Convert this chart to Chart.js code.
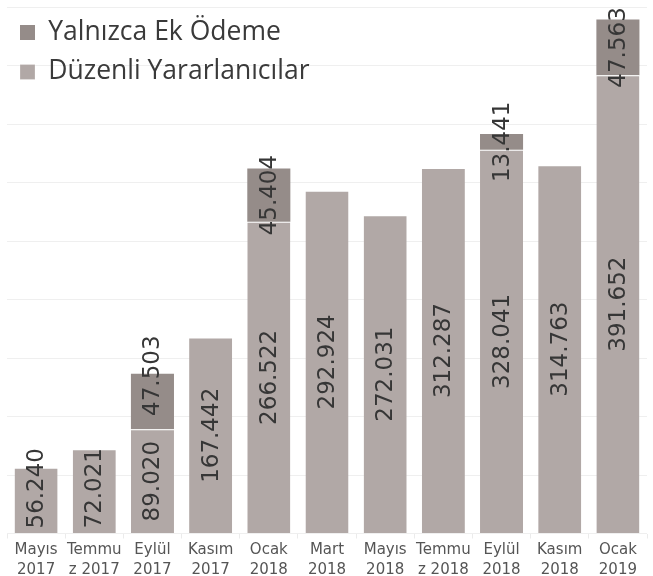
<!DOCTYPE html>
<html>
<head>
<meta charset="utf-8">
<script src="https://cdn.jsdelivr.net/npm/chart.js@4.4.1/dist/chart.umd.min.js"></script>
<style>
  html, body { margin: 0; padding: 0; background: #fff; }
  #wrap { width: 653px; height: 576px; position: relative; }
</style>
</head>
<body>
<div id="wrap"><canvas id="chart"></canvas></div>
<script>
const categories = [
    ['Mayıs', '2017'], ['Temmu', 'z 2017'], ['Eylül', '2017'], ['Kasım', '2017'],
    ['Ocak', '2018'], ['Mart', '2018'], ['Mayıs', '2018'], ['Temmu', 'z 2018'],
    ['Eylül', '2018'], ['Kasım', '2018'], ['Ocak', '2019']
];
const regularValues = [56240, 72021, 89020, 167442, 266522, 292924, 272031, 312287, 328041, 314763, 391652];
const extraValues = [null, null, 47503, null, 45404, null, null, null, 13441, null, 47563];
const yTicks = [0, 50000, 100000, 150000, 200000, 250000, 300000, 350000, 400000, 450000];

const labelFont = '23px "DejaVu Sans"';

function fmt(v) {
    return v.toString().replace(/\B(?=(\d{3})+(?!\d))/g, '.');
}

// rotated value labels inside the bars
const barLabels = {
    id: 'barLabels',
    afterDatasetsDraw(chart) {
        const ctx = chart.ctx;
        const bottom = chart.chartArea.bottom;
        const regMeta = chart.getDatasetMeta(0);
        const extMeta = chart.getDatasetMeta(1);
        ctx.save();
        ctx.font = labelFont;
        ctx.fillStyle = '#363636';
        ctx.textAlign = 'center';
        ctx.textBaseline = 'middle';
        regMeta.data.forEach((bar, i) => {
            const txt = fmt(regularValues[i]);
            const half = ctx.measureText(txt).width / 2;
            let cy = (bar.y + bar.base) / 2;
            if (cy + half > bottom - 5) cy = bottom - 5 - half;
            drawRot(ctx, txt, bar.x, cy);
            const v = extraValues[i];
            if (v) {
                const eb = extMeta.data[i];
                const etxt = fmt(v);
                const ehalf = ctx.measureText(etxt).width / 2;
                let ey = (eb.y + eb.base) / 2;
                const limit = cy - half - 25 - ehalf;
                if (ey > limit) ey = limit;
                drawRot(ctx, etxt, eb.x, ey);
            }
        });
        ctx.restore();
    }
};

function drawRot(ctx, txt, x, y) {
    ctx.save();
    ctx.translate(x, y);
    ctx.rotate(-Math.PI / 2);
    ctx.fillText(txt, 0, 1);
    ctx.restore();
}

new Chart(document.getElementById('chart'), {
    type: 'bar',
    data: {
        labels: categories,
        datasets: [{
            label: 'Düzenli Yararlanıcılar',
            data: regularValues,
            backgroundColor: 'rgb(177, 168, 166)',
            borderColor: '#ffffff',
            borderWidth: { top: 1 },
            borderSkipped: 'start',
            barPercentage: 0.74,
            categoryPercentage: 1
        }, {
            label: 'Yalnızca Ek Ödeme',
            data: extraValues,
            backgroundColor: 'rgb(149, 140, 137)',
            borderWidth: 0,
            barPercentage: 0.74,
            categoryPercentage: 1
        }]
    },
    options: {
        responsive: true,
        maintainAspectRatio: false,
        animation: false,
        layout: { padding: { left: 7, right: 6, top: 7, bottom: 0 } },
        plugins: {
            legend: {
                position: 'chartArea',
                align: 'start',
                reverse: true,
                title: {
                    display: true,
                    text: ' ',
                    font: { size: 1 },
                    padding: { top: 2, bottom: 3 }
                },
                labels: {
                    boxWidth: 15,
                    boxHeight: 15,
                    padding: 13,
                    color: '#3a3a3a',
                    font: { family: '"Open Sans"', size: 26.5 }
                }
            },
            tooltip: { enabled: false }
        },
        scales: {
            x: {
                stacked: true,
                border: { display: false },
                afterFit: axis => { axis.height -= 5; },
                grid: {
                    offset: true,
                    drawOnChartArea: false,
                    drawTicks: true,
                    tickLength: 5,
                    color: '#ebebeb'
                },
                ticks: {
                    color: '#555555',
                    padding: 1,
                    maxRotation: 0,
                    autoSkip: false,
                    font: { family: '"DejaVu Sans"', size: 15, lineHeight: 1.35 }
                }
            },
            y: {
                stacked: true,
                min: 0,
                max: yTicks[yTicks.length - 1],
                afterBuildTicks: axis => { axis.ticks = yTicks.map(v => ({ value: v })); },
                afterFit: axis => { axis.width = 0; },
                border: { display: false },
                grid: { drawTicks: false, color: '#efefef' },
                ticks: { display: false }
            }
        }
    },
    plugins: [barLabels]
});
</script>
</body>
</html>
